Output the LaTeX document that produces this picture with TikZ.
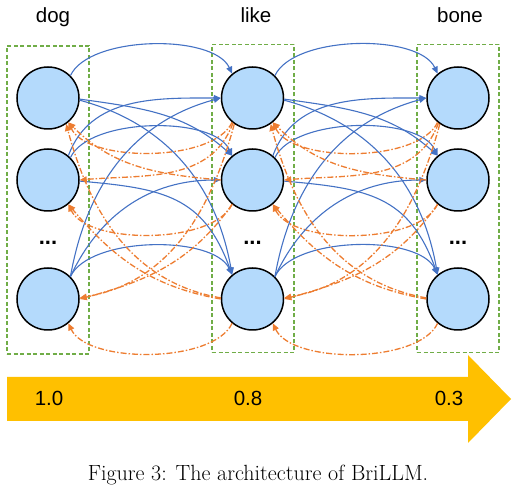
\documentclass[tikz,border=0pt]{standalone}
\usepackage{fontspec}
\newfontfamily\arialf{Liberation Sans}
\usetikzlibrary{arrows.meta}
\definecolor{nodeblue}{HTML}{B4DAFC}
\definecolor{linkblue}{HTML}{4472C4}
\definecolor{linkorange}{HTML}{ED7D31}
\definecolor{boxgreen}{HTML}{70AD47}
\definecolor{flowyellow}{HTML}{FFC000}
\begin{document}
\begin{tikzpicture}[x=1pt,y=1pt,
  neuron/.style={circle, draw=black, line width=1.5pt, fill=nodeblue, minimum size=62pt, inner sep=0pt},
  colbox/.style={draw=boxgreen, line width=1.1pt, dash pattern=on 4pt off 2.5pt, minimum width=82pt, minimum height=308pt, inner sep=0pt},
  fwd/.style={draw=linkblue, line width=1.1pt, -{Triangle[length=7pt,width=6pt]}},
  bwd/.style={draw=linkorange, line width=1.3pt, dash pattern=on 6pt off 2pt on 1.5pt off 2pt, -{Triangle[length=7pt,width=6pt]}},
  word/.style={font=\arialf\fontsize{20.5}{24}\selectfont, anchor=base, inner sep=0pt},
  dotsty/.style={font=\arialf\bfseries\fontsize{22}{24}\selectfont, anchor=base, inner sep=0pt},
  ]
\useasboundingbox (0,0) rectangle (530,495);
% column boxes
\node[colbox] (boxa) at (48,295) {};
\node[colbox] (boxb) at (253,296.5) {};
\node[colbox] (boxc) at (458,296.5) {};
% word labels
\node[word] (ldog) at (53,472) {dog};
\node[word] (llike) at (256,472) {like};
\node[word] (lbone) at (460,472) {bone};
% neurons
\foreach \n/\x in {a/48,b/252.5,c/458}{
  \node[neuron] (\n1) at (\x,397) {};
  \node[neuron] (\n2) at (\x,315) {};
  \node[neuron] (\n3) at (\x,196) {};
  \node[dotsty] (\n dots) at (\x,250) {...};
}
% connectors
\foreach \p/\q in {a/b,b/c}{
  \foreach \i in {1,2,3}{
    \draw[fwd] (\p\i.45) to[out=65,in=115,looseness=0.7] (\q\i.130);
    \draw[bwd] (\q\i.230) to[out=245,in=295,looseness=0.7] (\p\i.310);
  }
  \draw[fwd] (\p1.-2) to[out=-8,in=138] (\q2.130);
  \draw[fwd] (\p1.-4) to[out=-15,in=100] (\q3.130);
  \draw[fwd] (\p2.50) to[out=70,in=180] (\q1.180);
  \draw[fwd] (\p2.-2) to[out=-5,in=110,looseness=1.2] (\q3.130);
  \draw[fwd] (\p3.45) to[out=80,in=195] (\q1.180);
  \draw[fwd] (\p3.45) to[out=65,in=180] (\q2.180);
  \draw[bwd] (\q1.232) to[out=250,in=5] (\p2.0);
  \draw[bwd] (\q1.235) to[out=255,in=10] (\p3.2);
  \draw[bwd] (\q2.230) to[out=235,in=15] (\p3.0);
  \draw[bwd] (\q2.180) to[out=175,in=315] (\p1.310);
  \draw[bwd] (\q3.180) to[out=170,in=310] (\p2.310);
  \draw[bwd] (\q3.178) to[out=170,in=285] (\p1.305);
}
% flow arrow
\fill[flowyellow] (7,118) -- (468,118) -- (468,140) -- (511,96) -- (468,52) -- (468,74) -- (7,74) -- cycle;
\node[word] (v1) at (49,89) {1.0};
\node[word] (v2) at (248,89) {0.8};
\node[word] (v3) at (449,89) {0.3};
% caption
\node[font=\fontsize{22}{26}\selectfont, anchor=base, inner sep=0pt] (cap) at (258,14) {Figure 3: The architecture of BriLLM.};
\end{tikzpicture}
\end{document}
